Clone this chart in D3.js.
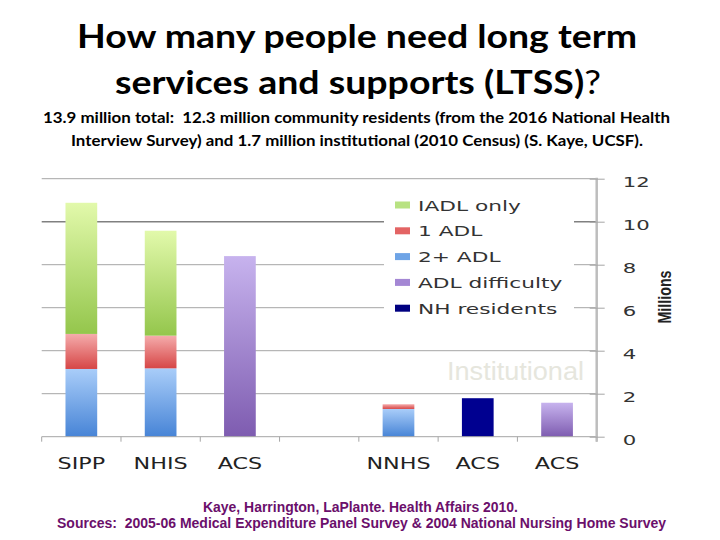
<!DOCTYPE html>
<html><head><meta charset="utf-8">
<script src="https://cdn.jsdelivr.net/npm/d3@7/dist/d3.min.js"></script>
<style>body{margin:0;background:#fff}svg{display:block}text{white-space:pre}</style>
</head><body>
<script>
// ---- data ----
const categories = ["SIPP", "NHIS", "ACS", "", "NNHS", "ACS", "ACS"];
const twoPlusAdl   = [3.15, 3.18, 0, 0, 1.29, 0, 0];
const oneAdl       = [1.63, 1.52, 0, 0, 0.22, 0, 0];
const iadlOnly     = [6.10, 4.88, 0, 0, 0, 0, 0];
const adlDifficulty= [0, 0, 8.40, 0, 0, 0, 1.58];
const nhResidents  = [0, 0, 0, 0, 0, 1.79, 0];
const yTicks = [0, 2, 4, 6, 8, 10, 12];
const seriesNames = ["2+ ADL", "1 ADL", "IADL only", "ADL difficulty", "NH residents"];
const legendOrder = ["IADL only", "1 ADL", "2+ ADL", "ADL difficulty", "NH residents"];
const titleLines = ["How many people need long term", "services and supports (LTSS)"];
const subtitleLines = ["13.9 million total:  12.3 million community residents (from the 2016 National Health",
  "Interview Survey) and 1.7 million institutional (2010 Census) (S. Kaye, UCSF)."];
const footerLines = ["Kaye, Harrington, LaPlante. Health Affairs 2010.",
  "Sources:  2005-06 Medical Expenditure Panel Survey & 2004 National Nursing Home Survey"];
const annotation = "Institutional";
const axisTitle = "Millions";

const W = 720, H = 540;
const svg = d3.select("body").append("svg").attr("width", W).attr("height", H);
const defs = svg.append("defs");

const gradients = {
  "IADL only": ["#e2f9ab", "#94c64c"],
  "1 ADL": ["#f5acac", "#d64646"],
  "2+ ADL": ["#a9cdf9", "#4784d6"],
  "ADL difficulty": ["#c7b3ee", "#7e5cb0"],
  "NH residents": ["#000090", "#000090"]
};
const swatch = {
  "IADL only": "#b8e282", "1 ADL": "#e36464", "2+ ADL": "#6ea4e6",
  "ADL difficulty": "#a487d4", "NH residents": "#000080"
};
Object.entries(gradients).forEach(([k, c], i) => {
  const g = defs.append("linearGradient").attr("id", "g" + i)
    .attr("x1", 0).attr("y1", 0).attr("x2", 0).attr("y2", 1);
  g.append("stop").attr("offset", "0%").attr("stop-color", c[0]);
  g.append("stop").attr("offset", "100%").attr("stop-color", c[1]);
});
const gradId = k => "url(#g" + Object.keys(gradients).indexOf(k) + ")";

// ---- scales ----
const x = d3.scaleBand().domain(d3.range(categories.length))
  .range([41.7, 596.7]).paddingInner(0.6).paddingOuter(0.3);
const y = d3.scaleLinear().domain([0, 12]).range([436.7, 178.7]);

// gridlines
svg.append("g").selectAll("line").data(yTicks.filter(t => t > 0)).join("line")
  .attr("x1", 41.7).attr("x2", 596.7)
  .attr("y1", d => y(d)).attr("y2", d => y(d))
  .attr("stroke", d => d === 10 ? "#808080" : "#a6a6a6")
  .attr("stroke-width", d => d === 10 ? 1.6 : 1);

// legend background
svg.append("rect").attr("x", 384).attr("y", 183).attr("width", 190).attr("height", 137).attr("fill", "#fff");

// bars
const table = categories.map((c, i) => ({
  i, "2+ ADL": twoPlusAdl[i], "1 ADL": oneAdl[i], "IADL only": iadlOnly[i],
  "ADL difficulty": adlDifficulty[i], "NH residents": nhResidents[i]
}));
const stack = d3.stack().keys(seriesNames)(table);
svg.append("g").selectAll("g").data(stack).join("g")
  .attr("fill", s => gradId(s.key))
  .selectAll("rect").data(s => s.filter(d => d[1] - d[0] > 0)).join("rect")
  .attr("x", d => x(d.data.i)).attr("width", x.bandwidth())
  .attr("y", d => y(d[1])).attr("height", d => y(d[0]) - y(d[1]));

// x axis
const xAxis = svg.append("g");
xAxis.append("line").attr("x1", 41.7).attr("x2", 596.7).attr("y1", y(0)).attr("y2", y(0))
  .attr("stroke", "#a6a6a6");
const bounds = d3.range(categories.length + 1).map(i => 41.7 + i * x.step());
xAxis.selectAll(".tk").data(bounds).join("line")
  .attr("x1", d => d).attr("x2", d => d).attr("y1", y(0)).attr("y2", y(0) + 5)
  .attr("stroke", "#a6a6a6");
xAxis.selectAll("text").data(categories).join("text")
  .attr("transform", (d, i) => `translate(${x(i) + x.bandwidth() / 2},469) scale(1.35,1)`)
  .attr("text-anchor", "middle")
  .attr("font-family", "DejaVu Sans").attr("font-size", 16.5).attr("fill", "#222")
  .text(d => d);

// right y axis
const yAxisG = svg.append("g").attr("transform", "translate(596.7,0)")
  .call(d3.axisRight(y).tickValues(yTicks).tickSize(8).tickPadding(0).tickFormat(d3.format("d")));
yAxisG.select(".domain").attr("stroke", "#bdbdbd").attr("stroke-width", 2.5)
  .attr("d", `M0,${y(12) - 1}V${y(0) + 5}`);
yAxisG.selectAll(".tick line").attr("stroke", "#a6a6a6").attr("x1", -7).attr("x2", 8);
yAxisG.selectAll(".tick text")
  .attr("x", null).attr("dy", null)
  .attr("transform", "translate(26,8) scale(1.55,1)")
  .attr("text-anchor", "start")
  .attr("font-family", "DejaVu Sans").attr("font-size", 13.7).attr("fill", "#333");

// axis title
svg.append("text").attr("transform", "translate(671,297) rotate(-90)")
  .attr("text-anchor", "middle")
  .attr("font-family", "'Liberation Sans Narrow', 'Arial Narrow', 'Liberation Sans', sans-serif")
  .attr("font-weight", "bold").attr("font-size", 19).attr("fill", "#222")
  .attr("textLength", 53).attr("lengthAdjust", "spacingAndGlyphs")
  .text(axisTitle);

// legend
const lg = svg.append("g");
legendOrder.forEach((k, i) => {
  const cy = 205 + i * 25.8;
  lg.append("rect").attr("x", 395).attr("y", cy - 3.5).attr("width", 15).attr("height", 7)
    .attr("fill", swatch[k]);
  lg.append("text").attr("transform", `translate(418,${cy + 5.5}) scale(1.55,1)`)
    .attr("font-family", "DejaVu Sans").attr("font-size", 14).attr("fill", "#333")
    .text(k);
});

// annotation
svg.append("text").attr("x", 447).attr("y", 379.5)
  .attr("font-family", "Liberation Sans").attr("font-size", 26)
  .attr("textLength", 137).attr("lengthAdjust", "spacingAndGlyphs")
  .attr("fill", "#e6e6dd").text(annotation);

// titles
const tfont = "Lato, 'Open Sans', sans-serif";
svg.append("text").attr("x", 357).attr("y", 47.5).attr("text-anchor", "middle")
  .attr("font-family", tfont).attr("font-weight", "bold").attr("font-size", 33)
  .attr("textLength", 560).attr("lengthAdjust", "spacingAndGlyphs").attr("fill", "#000")
  .text(titleLines[0]);
const t2 = svg.append("text").attr("x", 358).attr("y", 93.5).attr("text-anchor", "middle")
  .attr("font-family", tfont).attr("font-weight", "bold").attr("font-size", 33)
  .attr("textLength", 486).attr("lengthAdjust", "spacingAndGlyphs").attr("fill", "#000");
t2.append("tspan").text(titleLines[1]);
t2.append("tspan").attr("font-weight", "normal").text("?");

[[subtitleLines[0], 123.3, 627, 356.5], [subtitleLines[1], 146, 572, 357]].forEach(([s, yy, w, cx]) => {
  svg.append("text").attr("x", cx).attr("y", yy).attr("text-anchor", "middle")
    .attr("font-family", tfont).attr("font-weight", "bold").attr("font-size", 15)
    .attr("textLength", w).attr("lengthAdjust", "spacingAndGlyphs").attr("fill", "#000")
    .text(s);
});

[[footerLines[0], 511.5, 315, 360.5], [footerLines[1], 528, 609, 361.5]].forEach(([s, yy, w, cx]) => {
  svg.append("text").attr("x", cx).attr("y", yy).attr("text-anchor", "middle")
    .attr("font-family", "'Liberation Sans Narrow', 'Liberation Sans', sans-serif").attr("font-weight", "bold").attr("font-size", 14)
    .attr("textLength", w).attr("lengthAdjust", "spacingAndGlyphs").attr("fill", "#6b0f6b")
    .text(s);
});
</script>
</body></html>
